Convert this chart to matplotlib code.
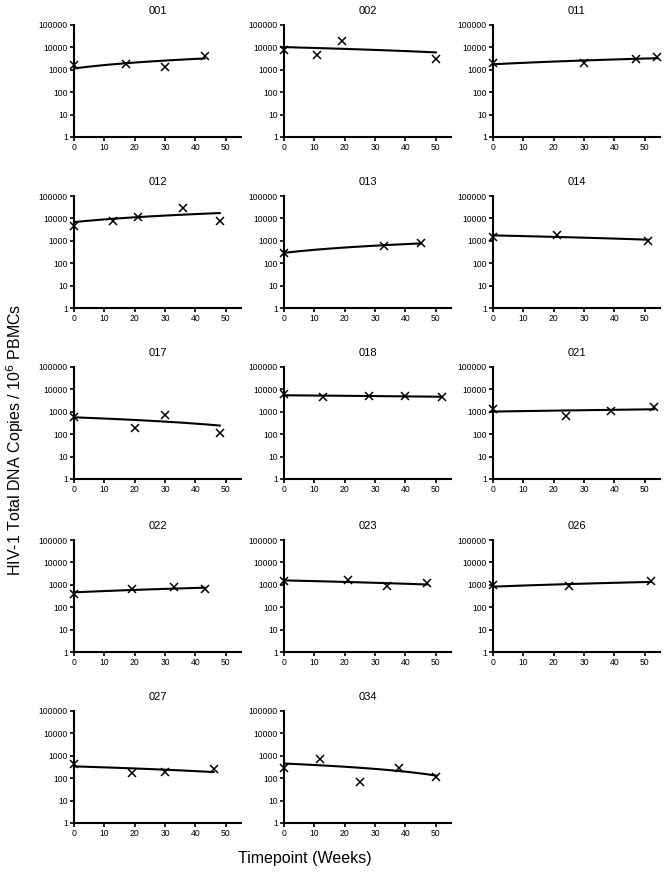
import numpy as np
import matplotlib
matplotlib.use("Agg")
import matplotlib.pyplot as plt

plt.rcParams['font.family'] = ['Liberation Sans', 'DejaVu Sans']

# patient ids, sampling weeks and HIV-1 DNA copies per 10^6 PBMCs
patients = ['001', '002', '011', '012', '013', '014', '017',
            '018', '021', '022', '023', '026', '027', '034']
weeks = [
    [0, 17, 30, 43],
    [0, 11, 19, 50],
    [0, 30, 47, 54],
    [0, 13, 21, 36, 48],
    [0, 33, 45],
    [0, 21, 51],
    [0, 20, 30, 48],
    [0, 13, 28, 40, 52],
    [0, 24, 39, 53],
    [0, 19, 33, 43],
    [0, 21, 34, 47],
    [0, 25, 52],
    [0, 19, 30, 46],
    [0, 12, 25, 38, 50],
]
copies = [
    [1600, 1800, 1400, 4100],
    [7600, 4600, 19000, 3100],
    [2060, 2000, 2900, 3800],
    [4500, 7900, 11900, 28000, 7600],
    [300, 600, 790],
    [1500, 1900, 950],
    [575, 183, 730, 118],
    [5950, 4650, 5000, 5000, 4800],
    [1320, 680, 1070, 1620],
    [406, 637, 785, 637],
    [1510, 1620, 840, 1150],
    [950, 840, 1460],
    [420, 170, 180, 270],
    [300, 700, 70, 280, 110],
]
xticks = [0, 10, 20, 30, 40, 50]
yticks = [1, 10, 100, 1000, 10000, 100000]

W, H = 664, 877
fig = plt.figure(figsize=(W / 100, H / 100), dpi=100)

col_left = [74, 284, 493]
row_top = [25, 196, 367, 540, 711]
ax_w, ax_h = 167, 112

for i, pid in enumerate(patients):
    r, c = divmod(i, 3)
    left = col_left[c] / W
    bottom = 1 - (row_top[r] + ax_h) / H
    ax = fig.add_axes([left, bottom, ax_w / W, ax_h / H])

    x = np.array(weeks[i], dtype=float)
    y = np.array(copies[i], dtype=float)
    ax.plot(x, y, 'x', color='black', ms=6, mew=1.1, clip_on=False, zorder=3)

    # linear regression, as in the original figure
    b, a = np.polyfit(x, y, 1)
    xf = np.linspace(0, x.max(), 100)
    ax.plot(xf, a + b * xf, color='black', lw=1.5, clip_on=False)

    ax.set_yscale('log')
    ax.set_ylim(1, 100000)
    ax.set_xlim(0, 55)
    ax.set_xticks(xticks)
    ax.set_yticks(yticks)
    ax.set_yticklabels([str(v) for v in yticks])
    ax.minorticks_off()
    ax.tick_params(direction='out', length=3, width=1.2, labelsize=6.2, pad=1.5)
    for s in ['top', 'right']:
        ax.spines[s].set_visible(False)
    for s in ['left', 'bottom']:
        ax.spines[s].set_linewidth(1.5)
    ax.set_title(pid, fontsize=8, pad=8)

fig.text(15 / W, 1 - 440 / H, 'HIV-1 Total DNA Copies / 10$^6$ PBMCs',
         rotation=90, ha='center', va='center', fontsize=11.5)
fig.text(305 / W, 1 - 858 / H, 'Timepoint (Weeks)',
         ha='center', va='center', fontsize=11.5)

fig.savefig('out.png', dpi=100)
